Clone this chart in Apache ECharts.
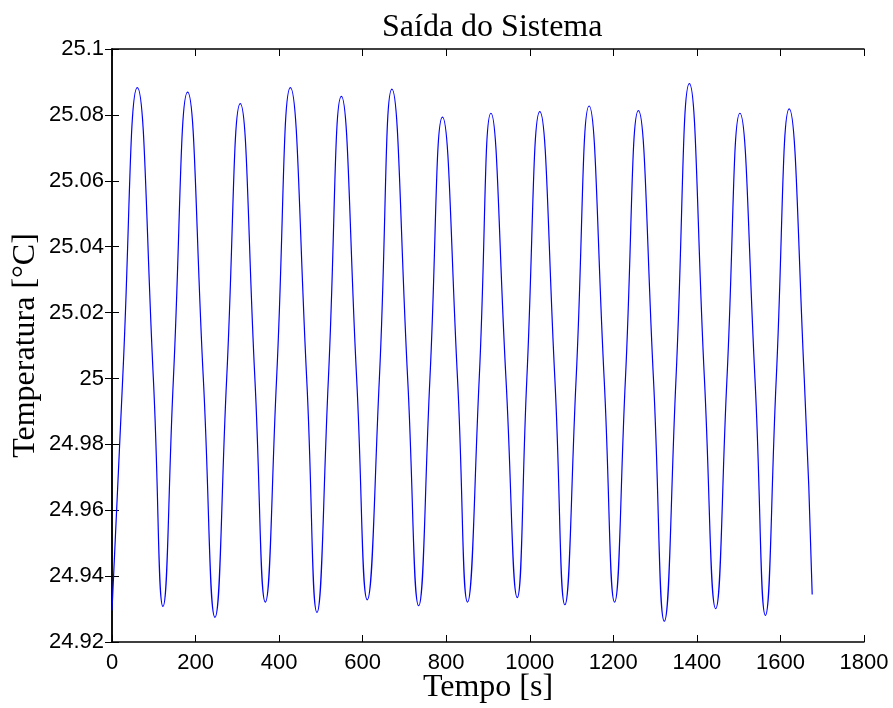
<!DOCTYPE html>
<html>
<head>
<meta charset="utf-8">
<script src="https://cdn.jsdelivr.net/npm/echarts@6/dist/echarts.min.js"></script>
<style>
html,body{margin:0;padding:0;background:#fff;}
#chart{width:893px;height:708px;}
</style>
</head>
<body>
<div id="chart"></div>
<script>
// Time samples [s] (extrema and 25.0 crossings)
var tempo = [0, 25.6, 60.6, 99, 122, 147, 181, 218.6, 246.5, 274.5, 307, 342, 367, 394, 427, 466, 490.6, 518, 549, 585.6, 611, 640, 670, 707.7, 734, 761, 791, 827, 851, 879, 907, 943, 970, 993, 1024, 1060, 1084, 1111, 1142, 1178, 1203, 1229, 1260, 1296, 1322, 1350, 1382, 1418, 1445, 1472, 1503, 1539, 1564, 1590, 1621, 1657, 1676];
// Temperature [°C]
var temperatura = [24.9296, 25.000, 25.0883, 25.000, 24.9308, 25.000, 25.0869, 25.000, 24.9275, 25.000, 25.0834, 25.000, 24.9321, 25.000, 25.0883, 25.000, 24.9290, 25.000, 25.0856, 25.000, 24.9328, 25.000, 25.0878, 25.000, 24.9310, 25.000, 25.0793, 25.000, 24.9321, 25.000, 25.0805, 25.000, 24.9335, 25.000, 25.0810, 25.000, 24.9313, 25.000, 25.0827, 25.000, 24.9321, 25.000, 25.0813, 25.000, 24.9263, 25.000, 25.0895, 25.000, 24.9301, 25.000, 25.0805, 25.000, 24.9281, 25.000, 25.0818, 25.000, 24.9344];
var xTicks = {min: 0, max: 1800, interval: 200};
var yTicks = {min: 24.92, max: 25.1, interval: 0.02};

var data = tempo.map(function (t, i) { return [t, temperatura[i]]; });
var sans = 'Liberation Sans, Arial, Helvetica, sans-serif';
var serif = 'Liberation Serif, Times New Roman, serif';
var lineStyle = {color: '#000', width: 1.5};
var tickStyle = {show: true, inside: true, length: 7, lineStyle: {color: '#000', width: 1}};

var chart = echarts.init(document.getElementById('chart'), null, {renderer: 'canvas'});
chart.setOption({
  animation: false,
  backgroundColor: '#fff',
  title: {
    text: 'Saída do Sistema',
    left: 377,
    top: 7,
    textStyle: {fontFamily: serif, fontSize: 32, fontWeight: 'normal', color: '#000'}
  },
  grid: {left: 112, right: 29, top: 49, bottom: 66, containLabel: false, outerBoundsMode: 'none'},
  xAxis: [{
    type: 'value', min: xTicks.min, max: xTicks.max, interval: xTicks.interval,
    name: 'Tempo [s]', nameLocation: 'middle', nameGap: 30, nameMoveOverlap: false,
    nameTextStyle: {fontFamily: serif, fontSize: 32, color: '#000'},
    axisLine: {show: true, lineStyle: lineStyle},
    axisTick: tickStyle,
    axisLabel: {fontFamily: sans, fontSize: 22, color: '#000', margin: 10,
      formatter: function (v) { return String(v); }},
    splitLine: {show: false}
  }, {
    type: 'value', position: 'top', min: xTicks.min, max: xTicks.max, interval: xTicks.interval,
    axisLine: {show: true, lineStyle: lineStyle},
    axisTick: tickStyle,
    axisLabel: {show: false},
    splitLine: {show: false}
  }],
  yAxis: [{
    type: 'value', min: yTicks.min, max: yTicks.max, interval: yTicks.interval,
    name: 'Temperatura [°C]', nameLocation: 'middle', nameGap: 70, nameMoveOverlap: false,
    nameTextStyle: {fontFamily: serif, fontSize: 32, color: '#000'},
    axisLine: {show: true, lineStyle: lineStyle},
    axisTick: tickStyle,
    axisLabel: {fontFamily: sans, fontSize: 22, color: '#000', margin: 8,
      formatter: function (v) { return String(+v.toFixed(2)); }},
    splitLine: {show: false}
  }, {
    type: 'value', position: 'right', min: yTicks.min, max: yTicks.max, interval: yTicks.interval,
    axisLine: {show: true, lineStyle: lineStyle},
    axisTick: tickStyle,
    axisLabel: {show: false},
    splitLine: {show: false}
  }],
  series: [{
    type: 'line',
    xAxisIndex: 0, yAxisIndex: 0,
    data: data,
    smooth: 0.5,
    showSymbol: false,
    lineStyle: {color: '#0000ff', width: 1.2}
  }]
});
</script>
</body>
</html>
